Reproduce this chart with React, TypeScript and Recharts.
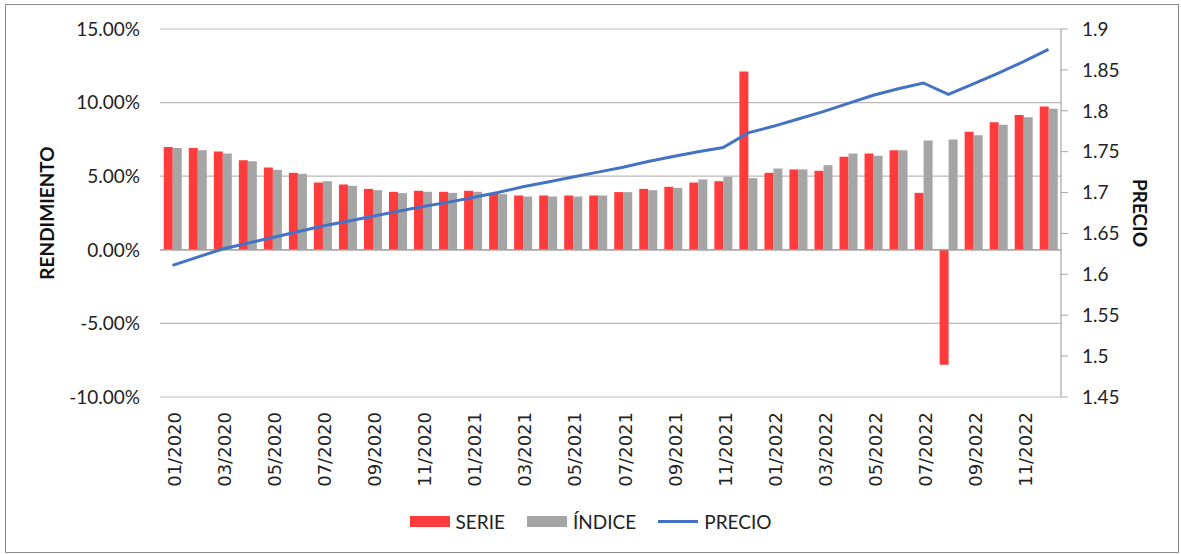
import { ComposedChart, Bar, Line, XAxis, YAxis, CartesianGrid, Legend, ReferenceLine } from 'recharts'

const months = [
  '01/2020', '02/2020', '03/2020', '04/2020', '05/2020', '06/2020', '07/2020', '08/2020', '09/2020', '10/2020', '11/2020', '12/2020',
  '01/2021', '02/2021', '03/2021', '04/2021', '05/2021', '06/2021', '07/2021', '08/2021', '09/2021', '10/2021', '11/2021', '12/2021',
  '01/2022', '02/2022', '03/2022', '04/2022', '05/2022', '06/2022', '07/2022', '08/2022', '09/2022', '10/2022', '11/2022', '12/2022',
]

// rendimiento, en %
const serie = [
  6.98, 6.91, 6.68, 6.09, 5.59, 5.23, 4.57, 4.44, 4.14, 3.94, 4.01, 3.94,
  4.01, 3.85, 3.69, 3.69, 3.69, 3.69, 3.92, 4.14, 4.28, 4.57, 4.66, 12.11,
  5.23, 5.46, 5.37, 6.32, 6.54, 6.77, 3.87, -7.81, 8.02, 8.67, 9.15, 9.74,
]
const indice = [
  6.91, 6.77, 6.54, 6.02, 5.43, 5.16, 4.66, 4.35, 4.05, 3.85, 3.94, 3.87,
  3.94, 3.78, 3.62, 3.62, 3.62, 3.69, 3.92, 4.05, 4.21, 4.78, 4.96, 4.87,
  5.52, 5.46, 5.75, 6.54, 6.39, 6.77, 7.43, 7.49, 7.79, 8.49, 9.01, 9.58,
]
const precio = [
  1.611, 1.621, 1.631, 1.638, 1.645, 1.652, 1.659, 1.665, 1.671, 1.677, 1.683, 1.688,
  1.694, 1.7, 1.707, 1.713, 1.719, 1.725, 1.731, 1.738, 1.744, 1.75, 1.755, 1.773,
  1.781, 1.79, 1.799, 1.809, 1.819, 1.827, 1.834, 1.82, 1.833, 1.846, 1.86, 1.875,
]

const leftTicks = [-10, -5, 0, 5, 10, 15]
const rightTicks = [1.45, 1.5, 1.55, 1.6, 1.65, 1.7, 1.75, 1.8, 1.85, 1.9]

const data = months.map((m, i) => ({ mes: m, serie: serie[i], indice: indice[i], precio: precio[i] }))

const FONT = 'Lato, "Liberation Sans", sans-serif'

function MonthTick(props: any) {
  const { x, y, payload } = props
  const tx = x + 2
  return (
    <text
      x={tx}
      y={y}
      transform={`rotate(-90 ${tx} ${y})`}
      textAnchor="end"
      dominantBaseline="central"
      fontFamily='"DejaVu Sans", sans-serif'
      fontSize={18}
      fill="#222"
    >
      {payload.value}
    </text>
  )
}

function LegendContent() {
  const items = [
    { name: 'SERIE', color: '#FF3B3B', kind: 'rect' },
    { name: 'ÍNDICE', color: '#A5A5A5', kind: 'rect' },
    { name: 'PRECIO', color: '#4472C4', kind: 'line' },
  ]
  return (
    <div style={{ display: 'flex', justifyContent: 'center', height: 30, alignItems: 'center', fontFamily: FONT, fontSize: 19, color: '#222' }}>
      {items.map((it) => (
        <div key={it.name} style={{ display: 'flex', alignItems: 'center', margin: '0 11px' }}>
          {it.kind === 'rect' ? (
            <span style={{ display: 'inline-block', width: 40, height: 11, background: it.color, marginRight: 6 }} />
          ) : (
            <span style={{ display: 'inline-block', width: 40, height: 3, background: it.color, marginRight: 6 }} />
          )}
          <span>{it.name}</span>
        </div>
      ))}
    </div>
  )
}

function AxisTitle(props: any) {
  const { viewBox, value, side } = props
  const cy = viewBox.y + viewBox.height / 2
  const cx = side === 'left' ? 46 : viewBox.x + 79
  return (
    <text
      x={cx}
      y={cy}
      transform={`rotate(${side === 'left' ? -90 : 90} ${cx} ${cy})`}
      textAnchor="middle"
      dominantBaseline="central"
      fontFamily={FONT}
      fontWeight="bold"
      fontSize={19}
      fill="#111"
    >
      {value}
    </text>
  )
}

export default function App() {
  return (
    <div style={{ position: 'absolute', left: 0, top: 0, width: 1181, height: 555, background: '#fff' }}>
      <div style={{ position: 'absolute', left: 5, top: 4, width: 1172, height: 547, border: '1px solid #8c8c8c' }} />
      <ComposedChart
        width={1181}
        height={555}
        data={data}
        margin={{ top: 29, right: 0, bottom: 19, left: 0 }}
        barCategoryGap="15%"
        barGap={0}
      >
        <CartesianGrid yAxisId="left" vertical={false} stroke="#b9b9b9" strokeWidth={1.2} />
        <XAxis
          dataKey="mes"
          interval={1}
          height={109}
          axisLine={false}
          tickLine={false}
          tickSize={0}
          tickMargin={15}
          tick={<MonthTick />}
        />
        <YAxis
          yAxisId="left"
          width={160}
          domain={[-10, 15]}
          ticks={leftTicks}
          axisLine={false}
          tickLine={false}
          tickSize={0}
          tickMargin={20}
          tickFormatter={(v: number) => `${v.toFixed(2)}%`}
          tick={{ fontFamily: FONT, fontSize: 19, fill: '#222' }}
          label={<AxisTitle value="RENDIMIENTO" side="left" />}
        />
        <YAxis
          yAxisId="right"
          orientation="right"
          width={120}
          domain={[1.45, 1.9]}
          ticks={rightTicks}
          axisLine={{ stroke: '#a6a6a6', strokeWidth: 1.2 }}
          tickLine={{ stroke: '#a6a6a6' }}
          tickSize={7}
          tickMargin={14}
          tickFormatter={(v: number) => String(Number(v.toFixed(2)))}
          tick={{ fontFamily: FONT, fontSize: 19, fill: '#222', textAnchor: 'start' }}
          label={<AxisTitle value="PRECIO" side="right" />}
        />
        <ReferenceLine yAxisId="left" y={0} stroke="#a0a0a0" strokeWidth={1.3} />
        <Bar yAxisId="left" dataKey="serie" name="SERIE" fill="#FF3B3B" isAnimationActive={false} />
        <Bar yAxisId="left" dataKey="indice" name="ÍNDICE" fill="#A5A5A5" isAnimationActive={false} />
        <Line
          yAxisId="right"
          dataKey="precio"
          name="PRECIO"
          stroke="#4472C4"
          strokeWidth={3}
          dot={false}
          type="linear"
          isAnimationActive={false}
        />
        <Legend verticalAlign="bottom" content={<LegendContent />} />
      </ComposedChart>
    </div>
  )
}
